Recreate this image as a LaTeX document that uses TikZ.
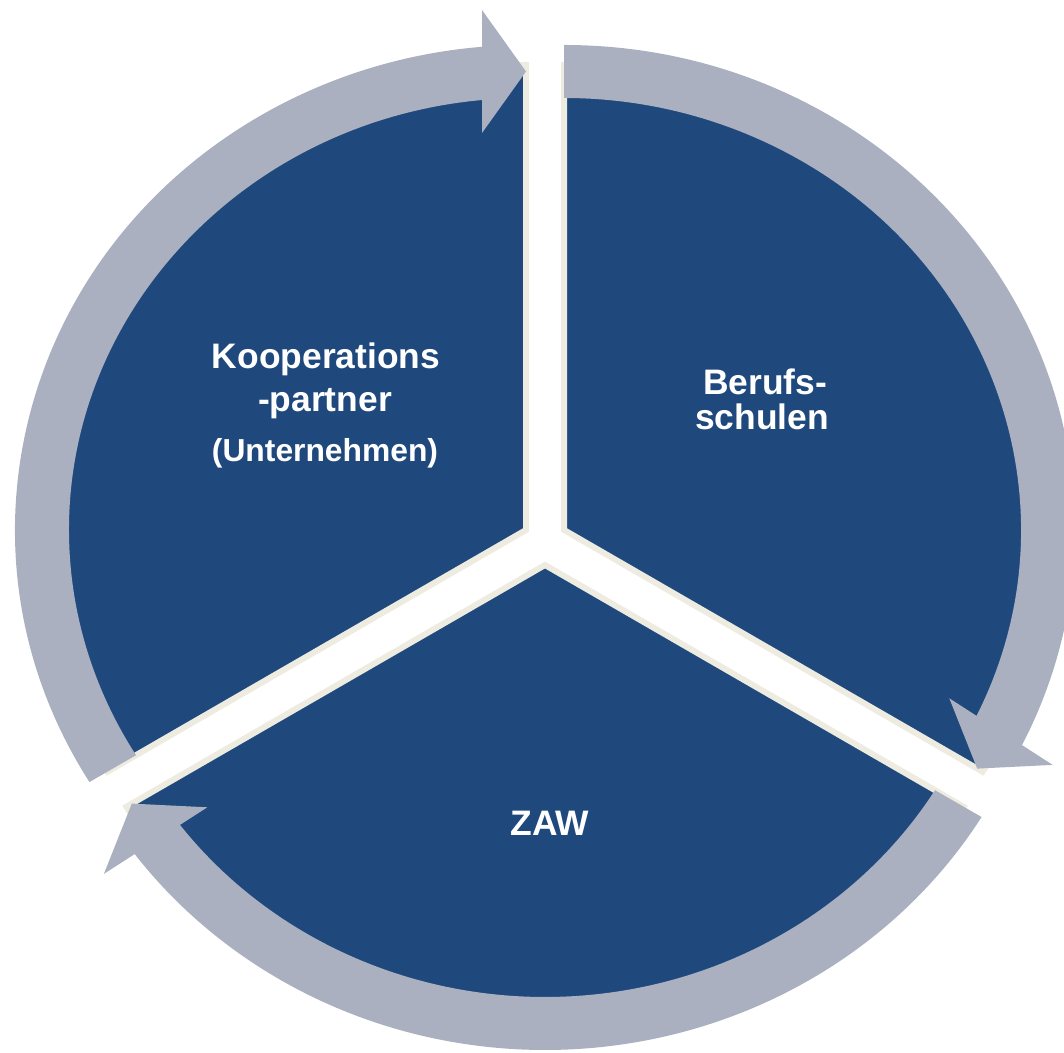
\documentclass[tikz,border=0pt]{standalone}
\usepackage{fontspec}
\setmainfont{Liberation Sans}
\definecolor{segblue}{HTML}{1F497D}
\definecolor{ringgray}{HTML}{AAB0BF}
\definecolor{edgecream}{HTML}{EEECE1}
\begin{document}
\begin{tikzpicture}[x=1pt,y=1pt,
  sector/.style={fill=segblue, draw=edgecream, line width=6pt, line join=miter},
  ring/.style={fill=ringgray},
  lblbig/.style={text=white, font=\bfseries\fontsize{35.4}{40}\selectfont, anchor=base, inner sep=0pt},
  lblsmall/.style={text=white, font=\bfseries\fontsize{31.8}{36}\selectfont, anchor=base, inner sep=0pt}]
\useasboundingbox (0,0) rectangle (1064,1052);
\coordinate (cL) at (526,522);
\coordinate (cR) at (564,522);
\coordinate (cB) at (545,487);
% sectors
\path[sector] (cL) -- ([shift={(cL)}]90:490 and 465)
  arc[start angle=90, end angle=211.32, x radius=490, y radius=465] -- cycle;
\path[sector] (cR) -- ([shift={(cR)}]90:490 and 465)
  arc[start angle=90, end angle=-31.32, x radius=490, y radius=465] -- cycle;
\path[sector] (cB) -- ([shift={(cB)}]211.32:490 and 465)
  arc[start angle=211.32, end angle=328.68, x radius=490, y radius=465] -- cycle;
% left arrow
\path[ring] ([shift={(cL)}]211.31:511 and 485)
  arc[start angle=211.31, end angle=94, x radius=511, y radius=485]
  -- ([shift={(cL)}]94:457 and 432)
  arc[start angle=94, end angle=211.42, x radius=457, y radius=432] -- cycle;
\coordinate (tipL) at (526,980.5);
\path[ring] (tipL) -- (482,1042) -- (482,919) -- cycle;
% right arrow
\path[ring] ([shift={(cR)}]90:511 and 485)
  arc[start angle=90, end angle=-27.2, x radius=511, y radius=485]
  -- ([shift={(cR)}]-27.2:457 and 432)
  arc[start angle=-27.2, end angle=90, x radius=457, y radius=432] -- cycle;
\coordinate (tipR) at (977.2,283.4);
\path[ring] (tipR) -- (1052.7,287.1) -- (949.3,353.7) -- cycle;
% bottom arrow
\path[ring] ([shift={(cB)}]-31.31:511 and 485)
  arc[start angle=-31.31, end angle=-144.4, x radius=511, y radius=485]
  -- ([shift={(cB)}]-144.4:457 and 432)
  arc[start angle=-144.4, end angle=-31.42, x radius=457, y radius=432] -- cycle;
\coordinate (tipB) at (131.8,248.4);
\path[ring] (tipB) -- (207.3,244.7) -- (103.9,178.1) -- cycle;
% labels
\node[lblbig] (k1) at (326,683) {Kooperations};
\node[lblbig] (k2) at (325,640) {-partner};
\node[lblsmall] (k3) at (325,590) {(Unternehmen)};
\node[lblbig] (b1) at (765,657) {Berufs-};
\node[lblbig] (b2) at (762,622) {schulen};
\node[lblbig] (z) at (550,217) {ZAW};
\end{tikzpicture}
\end{document}
